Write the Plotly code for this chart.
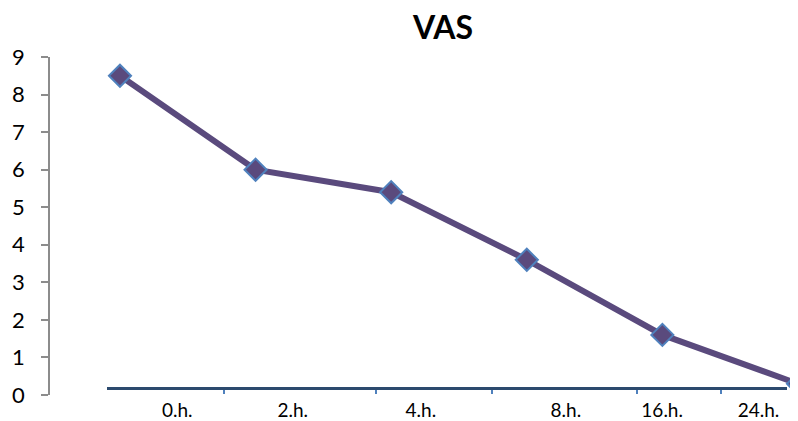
import plotly.graph_objects as go

# Data
categories = ["0.h.", "2.h.", "4.h.", "8.h.", "16.h.", "24.h."]
vas_values = [8.5, 6.0, 5.4, 3.6, 1.6, 0.3]
y_ticks = [0, 1, 2, 3, 4, 5, 6, 7, 8, 9]

# Layout constants for the separate category axis (as in the original chart)
label_pos = [0.62, 1.64, 2.77, 4.05, 4.90, 5.75]
tick_pos = [1.03, 2.37, 3.40, 4.68, 5.42]

FONT = "Lato"
PURPLE = "#5A4A7D"
BLUE = "#4F81BD"
NAVY = "#2C4A6E"
GRAY = "#8C8C8C"

W, H = 790, 413  # page body has an 8px margin

fig = go.Figure()
fig.add_trace(go.Scatter(
    x=list(range(len(categories))), y=vas_values,
    mode="lines+markers",
    line=dict(color=PURPLE, width=6),
    marker=dict(symbol="diamond", size=17, color=PURPLE,
                line=dict(color=BLUE, width=2)),
    showlegend=False, hoverinfo="skip",
    text=categories,
))
fig.add_trace(go.Scatter(x=[None], y=[None], xaxis="x2", yaxis="y",
                         showlegend=False, hoverinfo="skip"))

fig.update_layout(
    width=W, height=H,
    margin=dict(l=42, r=0, t=49, b=24),
    plot_bgcolor="rgba(0,0,0,0)", paper_bgcolor="white",
    font=dict(family=FONT, color="black"),
    title=dict(text="<b>VAS</b>", x=435 / W, xanchor="center", xref="container",
               y=1 - 20 / H, yanchor="middle", yref="container",
               font=dict(size=32, family=FONT, color="black")),
    xaxis=dict(visible=False, range=[-0.516, 5.0]),
    xaxis2=dict(
        domain=[0.0762, 0.985], anchor="free", position=0.0206,
        range=[0, 6], showline=True, linecolor=NAVY, linewidth=3,
        showgrid=False, zeroline=False,
        tickmode="array", tickvals=label_pos, ticktext=categories,
        ticks="", tickfont=dict(size=19, family=FONT, color="black"),
        ticklabelstandoff=4,
        minor=dict(tickmode="array", tickvals=tick_pos, ticks="outside",
                   ticklen=4, tickwidth=1.5, tickcolor=BLUE, showgrid=False),
    ),
    yaxis=dict(
        range=[0, 9], tickmode="array", tickvals=y_ticks,
        showline=True, linecolor=GRAY, linewidth=1.5,
        ticks="outside", ticklen=7, tickcolor=GRAY, tickwidth=1.5,
        showgrid=False, zeroline=False,
        tickfont=dict(size=22, family=FONT, color="black"),
        ticklabelstandoff=12,
    ),
)

fig.write_html("out.html")
